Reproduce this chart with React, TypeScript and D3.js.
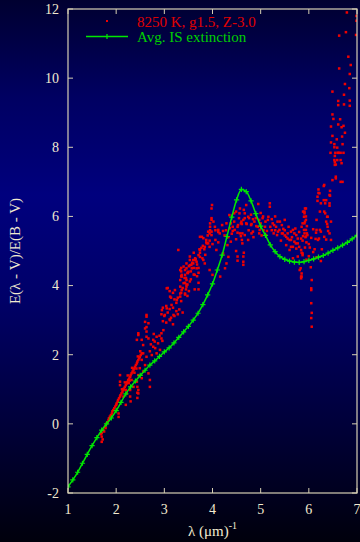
import React from "react";
import * as d3 from "d3";

const W = 360;
const H = 542;
const plot = { left: 68, right: 357, top: 9, bottom: 493 };

const xTicks = [1, 2, 3, 4, 5, 6, 7];
const yTicks = [-2, 0, 2, 4, 6, 8, 10, 12];

const legendModel = "8250 K, g1.5, Z-3.0";
const legendCurve = "Avg. IS extinction";

// Average interstellar extinction curve, E(λ-V)/E(B-V) vs 1/λ
const curveX = [
  1.0, 1.1, 1.2, 1.3, 1.4, 1.5, 1.6, 1.7, 1.8, 1.9, 2.0, 2.1, 2.2, 2.3, 2.4, 2.5,
  2.6, 2.7, 2.8, 2.9, 3.0, 3.1, 3.2, 3.3, 3.4, 3.5, 3.6, 3.7, 3.8, 3.9, 4.0, 4.1,
  4.2, 4.3, 4.4, 4.5, 4.6, 4.7, 4.8, 4.9, 5.0, 5.1, 5.2, 5.3, 5.4, 5.5, 5.6, 5.7,
  5.8, 5.9, 6.0, 6.1, 6.2, 6.3, 6.4, 6.5, 6.6, 6.7, 6.8, 6.9, 7.0,
];
const curveY = [
  -1.82, -1.62, -1.4, -1.14, -0.88, -0.63, -0.4, -0.18, 0.0, 0.17, 0.38, 0.62, 0.87,
  1.07, 1.24, 1.4, 1.55, 1.7, 1.82, 1.95, 2.08, 2.2, 2.34, 2.5, 2.66, 2.82, 3.0, 3.2,
  3.45, 3.73, 4.05, 4.45, 4.88, 5.42, 5.98, 6.48, 6.78, 6.72, 6.45, 6.08, 5.72, 5.45,
  5.18, 4.98, 4.84, 4.76, 4.71, 4.68, 4.67, 4.69, 4.73, 4.77, 4.82, 4.87, 4.94, 5.02,
  5.09, 5.17, 5.25, 5.35, 5.45,
];

// Model star colour excess samples, split by wavenumber range
const redRise: [number, number][] = [
  [1.7, -0.52], [1.7, -0.37], [1.72, -0.45], [1.68, -0.3], [1.7, -0.27], [1.73, -0.18], [1.75, -0.22],
  [1.77, -0.08], [1.78, -0.12], [1.8, 0.01], [1.82, 0.05], [1.84, 0.11], [1.85, 0.16], [1.87, 0.21],
  [1.89, 0.25], [1.91, 0.3], [1.92, 0.36], [1.94, 0.4], [1.96, 0.45], [1.98, 0.5], [2.0, 0.55],
  [2.01, 0.59], [2.03, 0.64], [2.04, 0.69], [2.06, 0.74], [2.08, 0.79], [2.09, 0.83], [2.11, 0.88],
  [2.13, 0.93], [2.15, 0.98], [2.16, 1.02], [2.18, 1.07], [2.2, 1.12], [2.22, 1.17], [2.23, 1.21],
  [2.25, 1.27], [2.27, 1.31], [2.29, 1.36], [2.3, 1.41], [2.32, 1.46], [2.34, 1.51], [2.36, 1.56],
  [2.37, 1.6], [2.39, 1.65], [2.41, 1.7], [2.43, 1.75], [2.44, 1.8], [2.46, 1.85], [2.48, 1.9],
  [2.49, 1.94], [2.51, 1.99], [2.53, 2.04], [2.12, 1.0], [2.18, 1.2], [2.24, 1.4], [2.28, 1.25],
  [2.33, 1.62], [2.38, 1.48], [2.42, 1.6], [2.45, 1.95], [2.5, 2.1], [2.2, 0.98], [2.26, 1.18],
  [2.05, 0.3], [2.05, 0.2], [2.08, 1.41], [2.08, 1.22], [2.08, 1.12], [2.2, 0.55], [2.29, 0.79],
  [2.3, 0.65], [2.44, 0.75], [2.44, 0.9], [2.44, 1.07], [2.46, 0.98], [2.46, 0.88], [2.32, 1.27],
  [2.67, 1.46], [2.7, 1.27], [2.7, 1.07], [2.36, 1.07], [2.29, 0.98], [2.22, 0.88], [2.15, 0.79],
  [2.56, 2.04], [2.63, 1.94], [2.53, 1.85], [2.6, 1.7], [2.49, 1.61], [2.56, 1.51], [2.46, 1.41],
  [2.53, 1.32], [2.43, 1.22], [2.63, 3.1], [2.67, 2.91], [2.46, 2.57], [2.43, 2.43], [2.6, 2.76],
  [2.63, 2.67], [2.63, 2.52], [2.63, 3.15], [2.6, 2.95], [2.63, 2.8], [2.46, 2.62], [2.53, 2.43],
  [2.67, 2.47], [2.56, 2.28], [2.77, 2.43], [2.87, 2.33], [2.81, 2.19], [2.91, 2.14], [2.84, 2.04],
  [2.74, 1.99], [2.98, 2.71], [2.94, 2.62], [2.84, 2.52], [2.94, 2.47], [2.8, 2.38], [2.77, 2.23],
  [2.7, 2.1], [2.72, 2.3], [2.9, 2.55], [2.96, 2.4], [2.78, 2.6],
];

const redRamp: [number, number][] = [
  [2.97, 3.36], [3.04, 3.41], [3.11, 3.32], [3.18, 3.36], [3.25, 3.26], [3.31, 3.31], [3.38, 3.22],
  [2.94, 3.17], [3.0, 3.12], [3.07, 3.22], [3.14, 3.07], [3.21, 3.12], [3.28, 3.17], [2.97, 2.97],
  [3.04, 2.93], [3.11, 3.02], [3.18, 2.88], [2.95, 3.29], [3.01, 3.15], [3.19, 3.15], [3.12, 3.0],
  [3.05, 3.34], [3.05, 3.92], [3.22, 3.87], [3.33, 3.77], [3.12, 3.68], [3.26, 3.58], [3.15, 3.44],
  [3.07, 3.93], [3.11, 3.84], [3.18, 3.79], [3.14, 3.65], [3.21, 3.6], [3.28, 3.65], [3.35, 3.55],
  [3.25, 3.5], [3.43, 4.08], [3.48, 4.03], [3.38, 3.93], [3.45, 3.89], [3.51, 3.84], [3.35, 3.79],
  [3.43, 3.74], [3.48, 3.7], [3.71, 4.08], [3.71, 3.89], [3.51, 4.56], [3.55, 4.41], [3.48, 4.37],
  [3.61, 4.32], [3.45, 4.22], [3.55, 4.18], [3.68, 4.27], [3.71, 4.37], [3.35, 4.51], [3.35, 4.41],
  [3.35, 4.27], [3.61, 4.95], [3.65, 4.76], [3.58, 4.66], [3.68, 4.61], [3.61, 4.51], [3.71, 4.51],
  [3.77, 5.09], [3.83, 5.05], [3.74, 4.95], [3.85, 4.89], [3.79, 4.79], [3.78, 5.41], [3.88, 5.22],
  [3.29, 5.03], [3.53, 4.84], [3.6, 4.74], [3.56, 4.6], [3.67, 4.5], [3.49, 4.36], [3.63, 4.31],
  [3.42, 4.22], [3.53, 4.12], [3.46, 4.03], [3.63, 3.89], [3.33, 4.45], [3.4, 4.55], [3.46, 4.64],
  [3.53, 4.74], [3.36, 4.26], [3.43, 4.31], [3.5, 4.4], [3.57, 4.5], [3.33, 3.97], [3.4, 4.07],
  [3.46, 4.16], [3.64, 4.74], [3.71, 4.88], [3.74, 5.03], [3.84, 5.12], [3.91, 5.22], [3.74, 5.41],
  [3.81, 5.37], [3.87, 5.32], [3.74, 4.83], [3.81, 4.74], [3.64, 4.79], [3.67, 4.69], [3.6, 4.64],
  [3.53, 4.59], [3.46, 4.5], [3.43, 4.45], [3.36, 4.31], [3.33, 4.16], [3.46, 3.97], [3.36, 3.87],
  [3.43, 3.77], [3.33, 3.68], [3.84, 4.64], [3.94, 4.45], [4.0, 4.31], [3.73, 5.05], [3.8, 5.15],
  [3.87, 5.25], [3.94, 5.3], [3.9, 5.45], [3.95, 5.6],
];

const redPlateau: [number, number][] = [
  [3.98, 5.9], [3.95, 5.8], [3.94, 5.51], [3.98, 5.56], [4.06, 5.6], [4.12, 5.55], [4.15, 5.51],
  [4.22, 5.58], [4.28, 5.6], [4.38, 5.8], [4.35, 6.04], [4.45, 6.09], [4.42, 5.7], [4.52, 5.7],
  [4.59, 5.8], [4.42, 5.58], [4.52, 5.53], [4.59, 5.43], [4.49, 5.34], [4.38, 5.27], [4.31, 5.17],
  [4.62, 5.51], [4.62, 5.22], [4.49, 5.0], [4.52, 4.84], [4.52, 4.72], [4.06, 5.32], [4.12, 5.25],
  [4.0, 5.2], [3.94, 5.12], [4.08, 5.03], [4.22, 4.93], [4.33, 4.83], [4.29, 4.64], [4.26, 4.5],
  [4.16, 4.26], [3.98, 6.23], [3.99, 6.33], [3.98, 5.95], [4.02, 5.85], [3.95, 5.7], [3.91, 5.56],
  [3.98, 5.46], [4.05, 5.7], [4.12, 5.61], [4.29, 5.8], [4.36, 5.66], [4.46, 5.61], [4.53, 5.75],
  [4.6, 5.85], [4.67, 5.95], [4.56, 6.09], [4.49, 6.14], [4.7, 5.8], [4.8, 5.75], [4.87, 5.85],
  [4.94, 5.7], [4.98, 5.61], [4.84, 5.56], [5.19, 6.38], [5.19, 6.28], [5.05, 6.0], [5.15, 5.9],
  [5.25, 5.8], [5.32, 5.7], [5.39, 5.61], [5.46, 5.51], [5.53, 5.41], [5.6, 5.32], [5.67, 5.61],
  [5.7, 5.51], [5.77, 5.36], [5.73, 5.22], [5.8, 5.12], [5.67, 5.12], [5.6, 5.03], [5.91, 6.09],
  [5.94, 6.0], [5.87, 5.8], [5.94, 5.61], [5.97, 5.46], [4.57, 6.23], [4.65, 6.19], [4.7, 6.33],
  [4.67, 6.09], [4.95, 6.36], [4.74, 5.99], [4.64, 5.9], [4.76, 5.95], [4.84, 5.92], [4.97, 5.9],
  [5.04, 5.95], [5.16, 5.99], [5.23, 5.92], [4.61, 5.78], [4.71, 5.78], [4.81, 5.78], [4.91, 5.72],
  [5.09, 5.7], [5.06, 5.6], [5.13, 5.58], [5.23, 5.6], [5.3, 5.6], [5.36, 5.56], [5.4, 5.85],
  [5.44, 5.75], [5.47, 5.64], [5.5, 5.6], [5.27, 5.51], [5.34, 5.46], [5.44, 5.51], [5.56, 5.51],
  [5.63, 5.56], [5.74, 5.46], [4.97, 5.51], [5.11, 5.46], [4.57, 5.51], [4.67, 5.46], [4.81, 5.51],
  [5.56, 5.36], [5.63, 5.32], [5.7, 5.27], [5.77, 5.22], [5.91, 5.51], [5.94, 5.42], [5.84, 5.36],
  [5.91, 5.8], [5.94, 5.9], [5.91, 6.14], [5.94, 6.23], [4.61, 5.32], [4.74, 5.32], [5.53, 5.17],
  [5.63, 5.12], [5.74, 5.07], [5.84, 5.03], [5.87, 4.93], [5.77, 4.84], [5.67, 4.79], [4.64, 4.84],
  [4.64, 4.69], [4.64, 4.6], [4.65, 4.95], [5.81, 4.45], [5.84, 4.26], [5.84, 4.21], [5.85, 4.35],
  [4.2, 5.75], [4.25, 5.45], [4.33, 5.4], [4.4, 5.5], [4.45, 5.85], [4.55, 5.95], [4.75, 5.6],
  [4.85, 5.4], [4.9, 5.95], [5.0, 5.8], [5.02, 5.45], [5.1, 5.85], [5.2, 5.7], [5.28, 5.75],
  [5.35, 5.85], [5.42, 5.3], [5.5, 5.45], [5.58, 5.7], [5.65, 5.4], [5.72, 5.65], [5.8, 5.55],
  [5.85, 5.7], [5.5, 5.9], [5.3, 6.0], [5.0, 6.1], [4.8, 6.05],
];

const redTail: [number, number][] = [
  [6.06, 4.16], [6.05, 3.87], [6.05, 3.49], [6.06, 3.21], [6.05, 3.06], [6.06, 2.81], [6.05, 3.92],
  [5.85, 4.26], [6.45, 7.84], [6.55, 7.84], [6.62, 7.84], [6.72, 7.84], [6.54, 7.75], [6.53, 7.63],
  [6.68, 7.54], [6.54, 7.49], [6.56, 7.1], [6.66, 7.0], [6.31, 6.88], [6.2, 6.78], [6.44, 6.74],
  [6.2, 6.68], [6.44, 6.6], [6.18, 6.57], [6.31, 6.47], [6.18, 6.45], [6.34, 6.38], [6.43, 6.38],
  [5.92, 6.23], [5.88, 6.14], [6.43, 6.31], [6.23, 6.14], [6.34, 6.09], [6.38, 5.99], [5.9, 5.99],
  [5.92, 5.85], [6.16, 5.9], [6.36, 5.85], [6.38, 5.78], [5.96, 5.72], [5.9, 5.61], [6.09, 5.63],
  [6.23, 5.61], [6.4, 5.58], [5.96, 5.51], [6.15, 5.53], [6.25, 5.56], [5.88, 5.43], [5.93, 5.4],
  [6.05, 5.38], [6.21, 5.36], [6.36, 5.33], [6.14, 5.35], [5.87, 5.3], [5.95, 5.25], [6.0, 5.2],
  [5.92, 5.1], [6.02, 5.1], [6.12, 5.05], [6.27, 5.05], [5.85, 4.95], [6.09, 4.97], [5.87, 4.88],
  [6.0, 4.85], [6.16, 4.82], [5.95, 4.75], [6.25, 4.71], [5.83, 4.5], [6.04, 4.53], [6.16, 5.61],
  [6.19, 5.32], [6.32, 5.41], [6.39, 5.7], [6.43, 5.51], [6.46, 5.32], [6.32, 6.14], [6.39, 5.99],
  [6.46, 5.85], [6.25, 6.38], [6.36, 6.47], [6.43, 6.62], [6.22, 6.67], [6.32, 6.91], [6.49, 7.05],
  [6.56, 7.15], [6.59, 7.63], [6.66, 7.63], [6.7, 7.0], [6.79, 11.9], [6.99, 11.8], [6.77, 11.33],
  [6.63, 11.23], [6.82, 10.62], [6.87, 10.38], [6.63, 10.28], [6.85, 10.12], [6.75, 9.83],
  [6.84, 9.71], [6.49, 9.61], [6.73, 9.52], [6.61, 9.34], [6.61, 9.22], [6.73, 9.24], [6.85, 9.2],
  [6.85, 9.35], [6.49, 8.95], [6.51, 8.82], [6.65, 8.81], [6.61, 8.66], [6.72, 8.62], [6.46, 8.6],
  [6.68, 8.58], [6.75, 8.42], [6.49, 8.33], [6.69, 8.31], [6.58, 8.23], [6.46, 8.14], [6.53, 8.09],
  [6.7, 8.09], [6.59, 7.99], [6.53, 8.0], [6.6, 7.84], [6.66, 7.84], [6.56, 7.5], [6.99, 11.66],
  [6.98, 11.25], [6.54, 7.57],
];

const frameColor = "#d6cfb4";
const textColor = "#f2ead0";
const font = "'Liberation Serif', 'Times New Roman', serif";

export default function App() {
  const x = d3.scaleLinear().domain([1, 7]).range([plot.left, plot.right]);
  const y = d3.scaleLinear().domain([-2, 12]).range([plot.bottom, plot.top]);

  const curvePts = curveX.map((v, i) => [v, curveY[i]] as [number, number]);
  const line = d3
    .line<[number, number]>()
    .x((d) => x(d[0]))
    .y((d) => y(d[1]))
    .curve(d3.curveMonotoneX);

  const scatter = [...redRise, ...redRamp, ...redPlateau, ...redTail];
  const dot = 2.5;
  const arm = 2.6;
  const tickLen = 5;

  return (
    <svg
      width={W}
      height={H}
      style={{ position: "absolute", left: 0, top: 0, display: "block" }}
      fontFamily={font}
    >
      <defs>
        <linearGradient id="bg" x1="0" y1="0" x2="0" y2="1">
          <stop offset="0" stopColor="#000030" />
          <stop offset="0.18" stopColor="#000062" />
          <stop offset="0.36" stopColor="#00007e" />
          <stop offset="0.55" stopColor="#000068" />
          <stop offset="0.75" stopColor="#000040" />
          <stop offset="1" stopColor="#00000c" />
        </linearGradient>
        <clipPath id="plotClip">
          <rect x={plot.left} y={plot.top} width={plot.right - plot.left} height={plot.bottom - plot.top} />
        </clipPath>
      </defs>
      <rect x={0} y={0} width={W} height={H} fill="url(#bg)" />

      {/* scatter of model colour excesses */}
      <g clipPath="url(#plotClip)" fill="#f00000">
        {scatter.map((d, i) => (
          <rect key={i} x={x(d[0]) - dot / 2} y={y(d[1]) - dot / 2} width={dot} height={dot} />
        ))}
      </g>

      {/* average extinction curve with + markers */}
      <g clipPath="url(#plotClip)">
        <path d={line(curvePts) || ""} fill="none" stroke="#00e800" strokeWidth={1.5} />
        {curvePts.map((d, i) => (
          <path
            key={i}
            d={`M${x(d[0]) - arm},${y(d[1])}h${2 * arm}M${x(d[0])},${y(d[1]) - arm}v${2 * arm}`}
            stroke="#00e800"
            strokeWidth={1.2}
          />
        ))}
      </g>

      {/* frame and ticks */}
      <rect
        x={plot.left}
        y={plot.top}
        width={plot.right - plot.left}
        height={plot.bottom - plot.top}
        fill="none"
        stroke={frameColor}
        strokeWidth={1.2}
      />
      {xTicks.map((t) => (
        <g key={"x" + t}>
          <line x1={x(t)} x2={x(t)} y1={plot.bottom} y2={plot.bottom - tickLen} stroke={frameColor} />
          <line x1={x(t)} x2={x(t)} y1={plot.top} y2={plot.top + tickLen} stroke={frameColor} />
          <text x={x(t)} y={514} textAnchor="middle" fontSize={14} fill={textColor}>
            {t}
          </text>
        </g>
      ))}
      {yTicks.map((t) => (
        <g key={"y" + t}>
          <line x1={plot.left} x2={plot.left + tickLen} y1={y(t)} y2={y(t)} stroke={frameColor} />
          <line x1={plot.right} x2={plot.right - tickLen} y1={y(t)} y2={y(t)} stroke={frameColor} />
          <text x={59} y={y(t)} dy="0.35em" textAnchor="end" fontSize={14} fill={textColor}>
            {t}
          </text>
        </g>
      ))}

      {/* axis titles */}
      <text x={(plot.left + plot.right) / 2} y={536} textAnchor="middle" fontSize={15} fill={textColor}>
        λ (μm)
        <tspan dy={-7} fontSize={10}>
          -1
        </tspan>
      </text>
      <text
        transform={`translate(15,${(plot.top + plot.bottom) / 2}) rotate(-90)`}
        textAnchor="middle"
        dy="0.35em"
        fontSize={15}
        fill={textColor}
      >
        E(λ - V)/E(B - V)
      </text>

      {/* legend */}
      <rect x={106} y={20} width={2} height={2} fill="#f00000" />
      <text x={137} y={27} fontSize={15} fill="#e00000">
        {legendModel}
      </text>
      <line x1={86} x2={128} y1={36.5} y2={36.5} stroke="#00e800" strokeWidth={1.5} />
      <path d={`M${107 - arm},36.5h${2 * arm}M107,${36.5 - arm}v${2 * arm}`} stroke="#00e800" strokeWidth={1.2} />
      <text x={137} y={42} fontSize={15} fill="#00d000">
        {legendCurve}
      </text>
    </svg>
  );
}
